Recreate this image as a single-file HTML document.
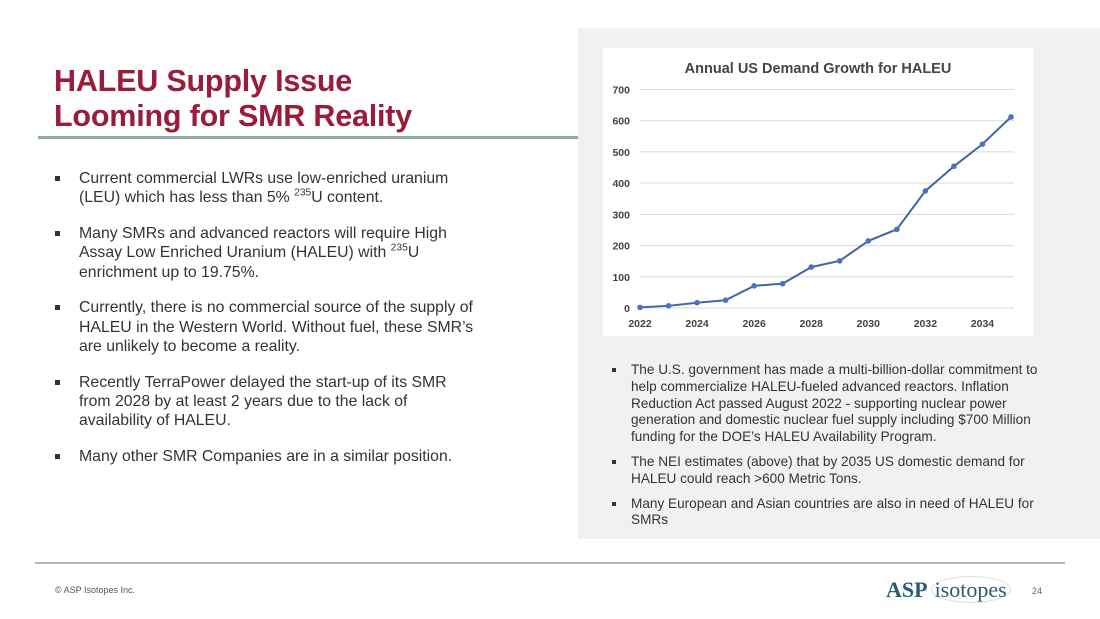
<!DOCTYPE html>
<html><head><meta charset="utf-8"><style>
body{margin:0;width:1100px;height:619px;background:#fff;position:relative;overflow:hidden;font-family:"Liberation Sans",Arial,sans-serif;}
.abs{position:absolute}
h1{position:absolute;left:54px;top:64px;margin:0;font-size:30.5px;line-height:35px;color:#9b1b3a;font-weight:bold;letter-spacing:-0.2px}
.rule{position:absolute;left:38px;top:136px;width:540px;height:3px;background:#8fa9ad}
ul{list-style:none;margin:0;padding:0;position:absolute}
ul li{position:relative}
ul li:before{content:"";position:absolute;width:5px;height:5px;background:#333}
#left{left:79px;top:169px;width:402px;font-size:15.8px;line-height:19.3px;color:#333}
#left li{margin-bottom:16.5px}
#left li:before{left:-24px;top:7px}
#right{left:631px;top:362px;width:414px;font-size:13.6px;line-height:16.8px;color:#333}
#right li{margin-bottom:8px}
#right li:before{left:-19px;top:6px;width:4px;height:4px}
sup{font-size:0.65em;line-height:0}
</style></head><body>
<div class="abs" style="left:578px;top:28px;width:522px;height:511px;background:#f1f1f1"></div>
<h1>HALEU Supply Issue<br>Looming for SMR Reality</h1>
<div class="rule"></div>
<ul id="left">
<li>Current commercial LWRs use low-enriched uranium (LEU) which has less than 5% <sup>235</sup>U content.</li>
<li>Many SMRs and advanced reactors will require High Assay Low Enriched Uranium (HALEU) with <sup>235</sup>U enrichment up to 19.75%.</li>
<li>Currently, there is no commercial source of the supply of HALEU in the Western World. Without fuel, these SMR’s are unlikely to become a reality.</li>
<li>Recently TerraPower delayed the start-up of its SMR from 2028 by at least 2 years due to the lack of availability of HALEU.</li>
<li>Many other SMR Companies are in a similar position.</li>
</ul>
<svg class="abs" style="left:603px;top:48px" width="430" height="288" id="chart"></svg>
<ul id="right">
<li>The U.S. government has made a multi-billion-dollar commitment to help commercialize HALEU-fueled advanced reactors. Inflation Reduction Act passed August 2022 - supporting nuclear power generation and domestic nuclear fuel supply including $700 Million funding for the DOE’s HALEU Availability Program.</li>
<li>The NEI estimates (above) that by 2035 US domestic demand for HALEU could reach &gt;600 Metric Tons.</li>
<li>Many European and Asian countries are also in need of HALEU for SMRs</li>
</ul>
<div class="abs" style="left:35px;top:562px;width:1030px;height:2px;background:#a8b8bb"></div>
<div class="abs" style="left:55px;top:585px;font-size:9px;color:#555">© ASP Isotopes Inc.</div>
<div class="abs" style="left:886px;top:577px;font-family:'Liberation Serif',serif;font-size:22px;color:#2a5a78;white-space:nowrap"><b>ASP</b><span style="border:1px solid #ddd;border-radius:50%;padding:0 3px;margin-left:3px">isotopes</span></div>
<div class="abs" style="left:1032px;top:586px;font-size:9px;color:#666">24</div>
<script>
const years=[2022,2023,2024,2025,2026,2027,2028,2029,2030,2031,2032,2033,2034,2035];
const demand=[2,7,17,25,71,78,131,151,215,252,375,454,525,612];
const yTicks=[0,100,200,300,400,500,600,700];
const xTickLabels=[2022,2024,2026,2028,2030,2032,2034];
const NS="http://www.w3.org/2000/svg";
const svg=document.getElementById('chart');
const x0=37,x1=408,y0=260,y1=41.5;
const xs=v=>x0+(v-2022)/(2035-2022)*(x1-x0);
const ys=v=>y0-v/700*(y0-y1);
function mk(t,a){const e=document.createElementNS(NS,t);for(const k in a)e.setAttribute(k,a[k]);svg.appendChild(e);return e;}
mk('rect',{x:0,y:0,width:430,height:288,fill:'#fff'});
const title=mk('text',{x:215,y:25,'text-anchor':'middle','font-size':'14.5','font-weight':'bold',fill:'#444','font-family':'Liberation Sans, sans-serif'});
title.textContent='Annual US Demand Growth for HALEU';


yTicks.forEach(v=>{
 const g=mk('line',{x1:x0,x2:x1+3,y1:ys(v),y2:ys(v),stroke:'#d9d9d9','stroke-width':1});
 
 
 const t=mk('text',{x:27,y:ys(v)+4,'text-anchor':'end','font-size':'10.5','font-weight':'bold',fill:'#444','font-family':'Liberation Sans, sans-serif'});
 t.textContent=v;
 
 
});
xTickLabels.forEach(v=>{
 const t=mk('text',{x:xs(v),y:279,'text-anchor':'middle','font-size':'10.5','font-weight':'bold',fill:'#444','font-family':'Liberation Sans, sans-serif'});
 t.textContent=v;
 
 
});
const pts=years.map((y,i)=>xs(y)+','+ys(demand[i])).join(' ');
const line=mk('polyline',{points:pts,fill:'none',stroke:'#4166a8','stroke-width':2});


years.forEach((y,i)=>{
 const c=mk('circle',{cx:xs(y),cy:ys(demand[i]),r:2.8,fill:'#4a72c0'});
 
 
});
</script>
</body></html>
